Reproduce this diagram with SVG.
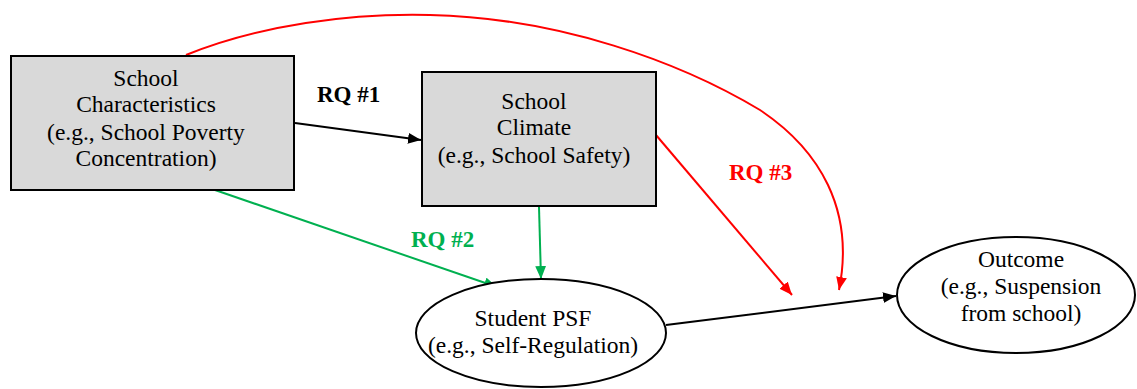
<svg xmlns="http://www.w3.org/2000/svg" width="1137" height="389" viewBox="0 0 1137 389">
<style>
.box{fill:#D9D9D9;stroke:#000;stroke-width:2}
.ell{fill:#fff;stroke:#000;stroke-width:2}
.t{font-family:"Liberation Serif","Times New Roman",serif;font-size:23.5px;fill:#000;text-anchor:middle}
.lbl{font-family:"Liberation Serif","Times New Roman",serif;font-size:23px;font-weight:bold}
.k{stroke:#000;stroke-width:2;fill:none}
.g{stroke:#00B050;stroke-width:2;fill:none}
.r{stroke:#FF0000;stroke-width:2;fill:none}
</style>
<defs>
<marker id="ak" viewBox="0 0 12 10" refX="12" refY="5" markerWidth="13" markerHeight="11" markerUnits="userSpaceOnUse" orient="auto"><path d="M0,0 L12,5 L0,10 z" fill="#000"/></marker>
<marker id="ag" viewBox="0 0 12 10" refX="12" refY="5" markerWidth="13" markerHeight="11" markerUnits="userSpaceOnUse" orient="auto"><path d="M0,0 L12,5 L0,10 z" fill="#00B050"/></marker>
<marker id="ar" viewBox="0 0 12 10" refX="12" refY="5" markerWidth="13" markerHeight="11" markerUnits="userSpaceOnUse" orient="auto"><path d="M0,0 L12,5 L0,10 z" fill="#FF0000"/></marker>
</defs>
<rect width="1137" height="389" fill="#fff"/>
<g id="connectors">
<path class="r" d="M186,55 C260,25 350,13 430,15 C560,18 680,62 760,110 C820,150 855,210 839,290" marker-end="url(#ar)"/>
<path class="k" d="M295,123 L421,140" marker-end="url(#ak)"/>
<path class="g" d="M215,190 L497,287" marker-end="url(#ag)"/>
<path class="g" d="M539,207 L541,279" marker-end="url(#ag)"/>
<path class="r" d="M656,135 L792,295" marker-end="url(#ar)"/>
<path class="k" d="M666,325 L896,296" marker-end="url(#ak)"/>
<text class="lbl" x="317" y="102" fill="#000">RQ #1</text>
<text class="lbl" x="411" y="247" fill="#00B050">RQ #2</text>
<text class="lbl" x="729" y="180" fill="#FF0000">RQ #3</text>
</g>
<g id="school-characteristics">
<rect class="box" x="11" y="56" width="283" height="134"/>
<text class="t" x="146" y="86">School</text>
<text class="t" x="146" y="112">Characteristics</text>
<text class="t" x="146" y="140">(e.g., School Poverty</text>
<text class="t" x="146" y="166">Concentration)</text>
</g>
<g id="school-climate">
<rect class="box" x="422" y="72" width="234" height="134"/>
<text class="t" x="534" y="109">School</text>
<text class="t" x="534" y="135">Climate</text>
<text class="t" x="534" y="163">(e.g., School Safety)</text>
</g>
<g id="student-psf">
<ellipse class="ell" cx="541" cy="333" rx="125" ry="54"/>
<text class="t" x="533" y="326">Student PSF</text>
<text class="t" x="533" y="353">(e.g., Self-Regulation)</text>
</g>
<g id="outcome">
<ellipse class="ell" cx="1016" cy="295" rx="119" ry="58"/>
<text class="t" x="1021" y="267">Outcome</text>
<text class="t" x="1021" y="294">(e.g., Suspension</text>
<text class="t" x="1021" y="321">from school)</text>
</g>
</svg>
